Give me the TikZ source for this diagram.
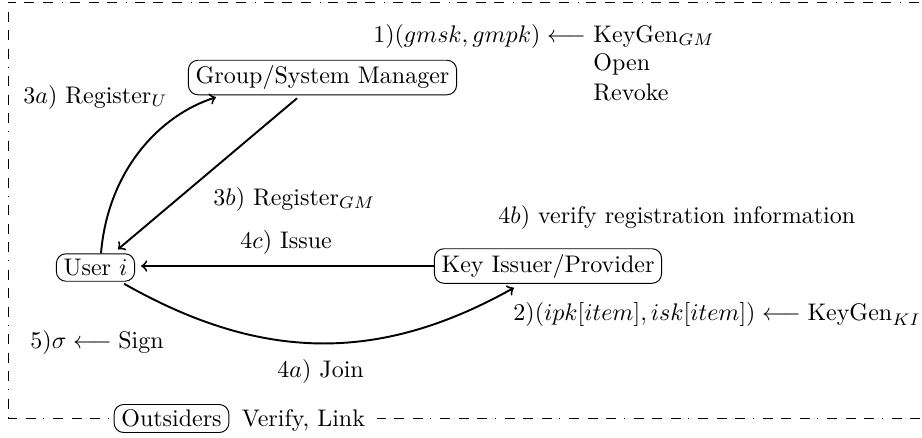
\documentclass[tikz,border=0pt]{standalone}
\usetikzlibrary{calc}
\begin{document}
\begin{tikzpicture}[x=0.41667pt,y=-0.41667pt,
  box/.style={draw,rounded corners,inner xsep=3pt,inner ysep=2.2pt,line width=0.4pt},
  conn/.style={->,thick},
  lbl/.style={inner sep=0pt,anchor=base west},
  frame/.style={line width=0.4pt,dash pattern=on 0.4pt off 3.6pt on 4.2pt off 3.5pt on 4.2pt off 3.5pt on 4.2pt off 3.275pt}]
\useasboundingbox (0,0) rectangle (922,437);
\draw[frame] (8,2) rectangle (941.5,418);

% main nodes
\node[box] (gsm) at (322.5,77.5) {Group/System Manager};
\node[box] (user) at (95.5,267.5) {User $i$};
\node[box] (kip) at (548,266) {Key Issuer/Provider};
\node[box,fill=white] (out) at (171.5,418.5) {Outsiders};
\node[anchor=base west,fill=white,inner xsep=5pt,inner ysep=2pt] (vl) at (out.base east) {Verify, Link};

% labels
\node[lbl] (kgm) at (593,42) {KeyGen$_{GM}$};
\node[lbl,anchor=base east] (one) at ([xshift=-2.78pt]kgm.base west) {$1)(gmsk, gmpk) \longleftarrow$};
\node[lbl] (open) at (593,70) {Open};
\node[lbl] (revoke) at (593,100) {Revoke};
\node[lbl] (l3a) at (23,103) {$3a)$ Register$_U$};
\node[lbl] (l3b) at (213,205) {$3b)$ Register$_{GM}$};
\node[lbl] (l4b) at (498,223) {$4b)$ verify registration information};
\node[lbl] (l4c) at (240,248) {$4c)$ Issue};
\node[lbl] (l2) at (513,320) {$2)(ipk[item], isk[item]) \longleftarrow \mathrm{KeyGen}_{KI}$};
\node[lbl] (l5) at (30,348) {$5)\sigma \longleftarrow \mathrm{Sign}$};
\node[lbl] (l4a) at (277,377) {$4a)$ Join};

% connectors
\draw[conn] ($(user.north)+(5.5,0)$) .. controls (108,170) and (160,115) .. ($(gsm.south west)+(28,2)$);
\draw[conn] ($(gsm.south)+(-25.5,3)$) -- ($(user.north)+(22.5,-4)$);
\draw[conn] (kip.west) -- ($(user.east |- kip.west)+(6,0)$);
\draw[conn] ($(user.south east)+(-11,2)$) .. controls (260,361) and (378,364) .. ($(kip.south west)+(80,4)$);
\end{tikzpicture}
\end{document}
